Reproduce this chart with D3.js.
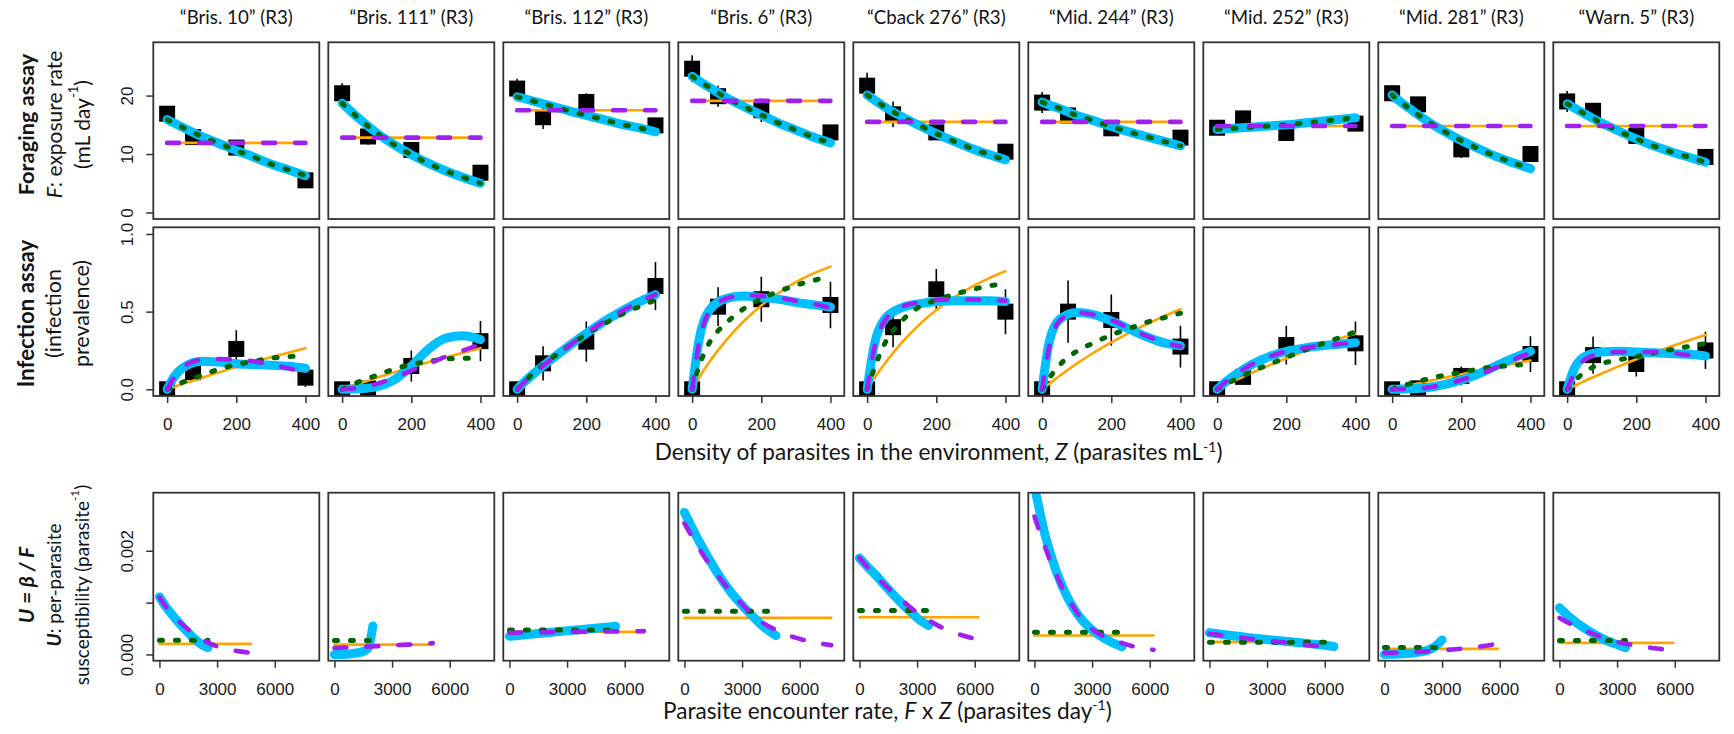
<!DOCTYPE html>
<html>
<head>
<meta charset="utf-8">
<script src="https://cdn.jsdelivr.net/npm/d3@7"></script>
<style>
  html, body { margin: 0; padding: 0; background: #fff; }
  svg { display: block; }
  .lab { font-family: Lato, "Open Sans", sans-serif; fill: #141414; }
  .tick text { font-family: "Liberation Sans", Arial, sans-serif; font-size: 17px; fill: #1a1a1a; }
  .tick line { stroke: #333; stroke-width: 1.5; }
</style>
</head>
<body>
<div id="chart"></div>
<script>
// strains (one column each)
const strains = ["\u201CBris. 10\u201D (R3)", "\u201CBris. 111\u201D (R3)", "\u201CBris. 112\u201D (R3)", "\u201CBris. 6\u201D (R3)",
  "\u201CCback 276\u201D (R3)", "\u201CMid. 244\u201D (R3)", "\u201CMid. 252\u201D (R3)", "\u201CMid. 281\u201D (R3)", "\u201CWarn. 5\u201D (R3)"];

// assay densities (parasites / mL) and grid the fitted curves are read at
const zAssay = [0, 75, 200, 400];
const zGrid = [0, 20, 50, 100, 150, 200, 250, 300, 350, 400];

// foraging assay: exposure rate F (mL/day)
const forMean = [
  [16.9, 12.9, 11.1, 5.5], [20.4, 13.0, 10.7, 6.8], [21.2, 16.3, 18.9, 14.9],
  [24.6, 19.9, 17.5, 13.7], [21.7, 16.8, 13.7, 10.4], [18.8, 16.6, 14.4, 12.8],
  [14.5, 16.1, 13.6, 15.2], [20.4, 18.5, 10.8, 10.0], [19.0, 17.4, 13.1, 9.5]];
const forSE = [
  [0.8, 0.8, 0.8, 0.6], [1.7, 1.4, 1.0, 0.8], [1.7, 2.0, 1.5, 0.8],
  [2.3, 1.8, 2.0, 1.2], [2.2, 2.2, 1.0, 0.8], [1.8, 1.0, 0.8, 0.6],
  [0.6, 0.6, 0.6, 0.6], [1.4, 0.8, 1.5, 0.6], [1.8, 0.6, 1.0, 0.6]];
// constant F fit (orange, purple) and density-dependent F fit (blue, green)
const forFlat = [11.9, 12.8, 17.5, 19.1, 15.5, 15.5, 14.8, 14.8, 14.8];
const forDecline = [
  [15.9, 15.3, 14.4, 13.0, 11.8, 10.6, 9.5, 8.3, 7.3, 6.3],
  [18.7, 17.6, 16.0, 13.6, 11.6, 9.9, 8.4, 7.1, 6.0, 5.0],
  [19.8, 19.5, 19.0, 18.2, 17.4, 16.6, 15.9, 15.1, 14.5, 13.8],
  [23.3, 22.5, 21.4, 19.6, 18.1, 16.7, 15.3, 14.1, 12.9, 11.9],
  [20.1, 19.3, 18.1, 16.4, 14.9, 13.5, 12.2, 11.0, 9.95, 9.0],
  [18.9, 18.4, 17.8, 16.6, 15.7, 14.7, 13.8, 13.0, 12.2, 11.4],
  [14.2, 14.3, 14.4, 14.6, 14.8, 15.0, 15.3, 15.6, 15.9, 16.2],
  [20.1, 19.1, 17.8, 15.7, 13.9, 12.3, 10.9, 9.6, 8.5, 7.5],
  [18.6, 17.9, 16.9, 15.3, 13.9, 12.6, 11.4, 10.4, 9.5, 8.6]];

// infection assay: prevalence
const infMean = [
  [0, 0.11, 0.26, 0.075], [0, 0.005, 0.15, 0.31], [0, 0.167, 0.307, 0.665],
  [0, 0.532, 0.58, 0.543], [0, 0.40, 0.644, 0.50], [0, 0.50, 0.446, 0.275],
  [0, 0.08, 0.285, 0.296], [0, 0.006, 0.086, 0.227], [0, 0.22, 0.163, 0.25]];
const infSE = [
  [0, 0.06, 0.12, 0.06], [0, 0.02, 0.1, 0.13], [0, 0.11, 0.13, 0.155],
  [0, 0.125, 0.145, 0.15], [0, 0.13, 0.13, 0.145], [0, 0.2, 0.165, 0.135],
  [0, 0.05, 0.125, 0.14], [0, 0.01, 0.06, 0.115], [0, 0.12, 0.08, 0.12]];
const infOrange = [
  [0, 0.015, 0.038, 0.074, 0.109, 0.143, 0.175, 0.206, 0.236, 0.265],
  [0, 0.015, 0.038, 0.074, 0.109, 0.143, 0.175, 0.206, 0.236, 0.265],
  [0, 0.045, 0.11, 0.207, 0.294, 0.371, 0.44, 0.501, 0.556, 0.605],
  [0, 0.075, 0.177, 0.32, 0.44, 0.54, 0.62, 0.69, 0.745, 0.79],
  [0, 0.069, 0.163, 0.30, 0.415, 0.51, 0.59, 0.657, 0.713, 0.76],
  [0, 0.035, 0.086, 0.165, 0.237, 0.302, 0.362, 0.417, 0.468, 0.515],
  [0, 0.022, 0.054, 0.106, 0.154, 0.2, 0.243, 0.285, 0.323, 0.36],
  [0, 0.01, 0.025, 0.05, 0.074, 0.097, 0.12, 0.142, 0.164, 0.185],
  [0, 0.021, 0.053, 0.102, 0.149, 0.194, 0.236, 0.276, 0.314, 0.35]];
const infGreen = [
  [0, 0.02, 0.05, 0.09, 0.13, 0.16, 0.18, 0.20, 0.21, 0.22],
  [0, 0.02, 0.05, 0.09, 0.13, 0.16, 0.18, 0.195, 0.2, 0.2],
  [0, 0.045, 0.11, 0.2, 0.28, 0.355, 0.42, 0.48, 0.53, 0.575],
  [0, 0.15, 0.3, 0.43, 0.52, 0.585, 0.63, 0.67, 0.70, 0.73],
  [0, 0.13, 0.29, 0.44, 0.53, 0.575, 0.61, 0.64, 0.665, 0.68],
  [0, 0.07, 0.155, 0.245, 0.30, 0.35, 0.39, 0.43, 0.46, 0.49],
  [0, 0.025, 0.06, 0.115, 0.16, 0.205, 0.25, 0.29, 0.33, 0.37],
  [0, 0.015, 0.035, 0.065, 0.09, 0.11, 0.13, 0.145, 0.155, 0.16],
  [0, 0.05, 0.11, 0.165, 0.19, 0.21, 0.235, 0.255, 0.275, 0.295]];
const infBlue = [
  [0, 0.08, 0.145, 0.18, 0.175, 0.165, 0.16, 0.155, 0.148, 0.135],
  [0, 0.001, 0.003, 0.015, 0.06, 0.15, 0.26, 0.33, 0.345, 0.32],
  [0, 0.045, 0.105, 0.195, 0.28, 0.36, 0.435, 0.5, 0.56, 0.61],
  [0, 0.32, 0.51, 0.585, 0.6, 0.59, 0.58, 0.56, 0.545, 0.53],
  [0, 0.28, 0.45, 0.525, 0.55, 0.565, 0.57, 0.57, 0.57, 0.565],
  [0, 0.30, 0.45, 0.495, 0.48, 0.44, 0.39, 0.34, 0.30, 0.28],
  [0, 0.04, 0.09, 0.16, 0.21, 0.245, 0.265, 0.28, 0.29, 0.30],
  [0, 0.001, 0.003, 0.01, 0.03, 0.06, 0.10, 0.15, 0.20, 0.245],
  [0, 0.13, 0.21, 0.24, 0.245, 0.24, 0.235, 0.23, 0.225, 0.215]];
const infPurple = [
  [0, 0.075, 0.15, 0.19, 0.195, 0.19, 0.18, 0.16, 0.135, 0.11],
  [0, 0.003, 0.01, 0.035, 0.075, 0.12, 0.165, 0.21, 0.25, 0.29],
  [0, 0.045, 0.105, 0.195, 0.28, 0.36, 0.435, 0.5, 0.56, 0.61],
  [0, 0.30, 0.50, 0.585, 0.605, 0.60, 0.59, 0.57, 0.55, 0.525],
  [0, 0.26, 0.44, 0.53, 0.56, 0.575, 0.58, 0.578, 0.575, 0.57],
  [0, 0.27, 0.44, 0.495, 0.48, 0.445, 0.395, 0.345, 0.305, 0.275],
  [0, 0.04, 0.09, 0.16, 0.21, 0.245, 0.265, 0.28, 0.29, 0.30],
  [0, 0.001, 0.003, 0.01, 0.03, 0.06, 0.095, 0.14, 0.19, 0.235],
  [0, 0.1, 0.19, 0.23, 0.24, 0.24, 0.24, 0.235, 0.22, 0.2]];

// per-parasite susceptibility U (x 0.001), constant fits
const uOrange = [0.205, 0.19, 0.436, 0.705, 0.718, 0.365, 0.244, 0.109, 0.224];
const uGreen = [0.276, 0.27, 0.47, 0.833, 0.85, 0.43, 0.237, 0.135, 0.27];
// varying fits, read at 9 even steps from 0 to the largest encounter rate F(400) x 400
const uBlue = [
  [1.11, 0.93, 0.78, 0.64, 0.51, 0.39, 0.28, 0.19, 0.13],
  [0.0, 0.001, 0.004, 0.01, 0.02, 0.035, 0.06, 0.12, 0.55],
  [0.35, 0.375, 0.40, 0.425, 0.45, 0.47, 0.495, 0.52, 0.545],
  [2.74, 2.30, 1.90, 1.53, 1.22, 0.96, 0.73, 0.52, 0.365],
  [1.86, 1.68, 1.51, 1.32, 1.14, 0.97, 0.81, 0.66, 0.56],
  [3.25, 2.28, 1.60, 1.11, 0.76, 0.52, 0.36, 0.24, 0.15],
  [0.42, 0.38, 0.345, 0.31, 0.28, 0.25, 0.22, 0.19, 0.155],
  [0.0, 0.005, 0.01, 0.02, 0.03, 0.05, 0.08, 0.15, 0.28],
  [0.90, 0.75, 0.62, 0.51, 0.41, 0.32, 0.25, 0.19, 0.13]];
const uPurple = [
  [1.10, 0.80, 0.58, 0.40, 0.26, 0.16, 0.10, 0.06, 0.03],
  [0.125, 0.135, 0.145, 0.155, 0.165, 0.18, 0.19, 0.205, 0.22],
  [0.42, 0.424, 0.428, 0.432, 0.436, 0.44, 0.443, 0.447, 0.45],
  [2.53, 1.93, 1.44, 1.02, 0.68, 0.47, 0.33, 0.24, 0.18],
  [1.86, 1.54, 1.26, 1.01, 0.78, 0.60, 0.46, 0.36, 0.29],
  [2.66, 1.85, 1.22, 0.75, 0.46, 0.31, 0.21, 0.13, 0.09],
  [0.40, 0.365, 0.33, 0.30, 0.27, 0.24, 0.21, 0.18, 0.155],
  [0.03, 0.035, 0.045, 0.06, 0.08, 0.10, 0.13, 0.165, 0.21],
  [0.705, 0.56, 0.44, 0.33, 0.245, 0.19, 0.145, 0.11, 0.083]];

// layout
const W = 1734, H = 734;
const left0 = 153.3, colStep = 175, pw = 166;
const rows = [{ top: 42.3, h: 176.7 }, { top: 227.3, h: 168.7 }, { top: 492.7, h: 168 }];

const st = {
  orange: { color: "#FFA500", w: 2.6 },
  blue: { color: "#00BFFF", w: 9 },
  green: { color: "#006400", w: 5, dash: "3 13" },
  purple: { color: "#A020F0", w: 4.6, dash: "12 20" }
};

const svg = d3.select("#chart").append("svg")
  .attr("width", W).attr("height", H);

// scales (shared across columns)
const xZ = d3.scaleLinear().domain([-40, 440]).range([0, pw]);
const xFZ = d3.scaleLinear().domain([-320, 8320]).range([0, pw]);
const yF = d3.scaleLinear().domain([-1.12, 29.12]).range([rows[0].h, 0]);
const yP = d3.scaleLinear().domain([-0.0432, 1.0432]).range([rows[1].h, 0]);
const yU = d3.scaleLinear().domain([-0.12, 3.12]).range([rows[2].h, 0]);

const defs = svg.append("defs");
rows.forEach((r, k) => {
  defs.append("clipPath").attr("id", "clip" + k)
    .append("rect").attr("width", pw).attr("height", r.h);
});

function addLine(g, pts, xs, ys, s) {
  g.append("path").datum(pts)
    .attr("fill", "none")
    .attr("stroke", s.color)
    .attr("stroke-width", s.w)
    .attr("stroke-linecap", "round")
    .attr("stroke-linejoin", "round")
    .attr("stroke-dasharray", s.dash || null)
    .attr("d", d3.line().x(d => xs(d[0])).y(d => ys(d[1])).curve(d3.curveMonotoneX));
}

function addPoints(g, means, ses, xs, ys) {
  zAssay.forEach((z, j) => {
    g.append("line")
      .attr("x1", xs(z)).attr("x2", xs(z))
      .attr("y1", ys(means[j] - ses[j])).attr("y2", ys(means[j] + ses[j]))
      .attr("stroke", "#000").attr("stroke-width", 1.6);
    g.append("rect")
      .attr("x", xs(z) - 8).attr("y", ys(means[j]) - 8)
      .attr("width", 16).attr("height", 16).attr("fill", "#000");
  });
}

function yAxis(g, ys, ticks, fmt) {
  const ax = g.append("g").call(d3.axisLeft(ys).tickValues(ticks).tickSize(7).tickFormat(fmt));
  ax.select(".domain").remove();
  ax.selectAll("text")
    .attr("transform", "rotate(-90)")
    .attr("x", 0).attr("y", -20.3).attr("dy", 0)
    .attr("text-anchor", "middle");
}

function xAxis(g, xs, h, ticks) {
  const ax = g.append("g").attr("transform", `translate(0,${h})`)
    .call(d3.axisBottom(xs).tickValues(ticks).tickSize(7).tickFormat(d3.format("d")));
  ax.select(".domain").remove();
  ax.selectAll("text").attr("y", 34).attr("dy", 0);
}

function panel(k, i) {
  const g = svg.append("g").attr("transform", `translate(${left0 + colStep * i},${rows[k].top})`);
  const inner = g.append("g").attr("clip-path", `url(#clip${k})`);
  return { g, inner };
}

strains.forEach((name, i) => {
  const x0 = left0 + colStep * i;
  svg.append("text").attr("class", "lab")
    .attr("x", x0 + pw / 2).attr("y", 24)
    .attr("text-anchor", "middle").style("font-size", "18.7px")
    .text(name);

  // row 1: foraging
  const p1 = panel(0, i);
  addPoints(p1.inner, forMean[i], forSE[i], xZ, yF);
  const flat = [[0, forFlat[i]], [400, forFlat[i]]];
  const decl = zGrid.map((z, j) => [z, forDecline[i][j]]);
  addLine(p1.inner, flat, xZ, yF, st.orange);
  addLine(p1.inner, decl, xZ, yF, st.blue);
  addLine(p1.inner, decl, xZ, yF, st.green);
  addLine(p1.inner, flat, xZ, yF, st.purple);
  if (i === 0) yAxis(p1.g, yF, [0, 10, 20], d3.format("d"));

  // row 2: infection
  const p2 = panel(1, i);
  addPoints(p2.inner, infMean[i], infSE[i], xZ, yP);
  const pts = arr => zGrid.map((z, j) => [z, arr[i][j]]);
  addLine(p2.inner, pts(infOrange), xZ, yP, st.orange);
  addLine(p2.inner, pts(infBlue), xZ, yP, st.blue);
  addLine(p2.inner, pts(infGreen), xZ, yP, st.green);
  addLine(p2.inner, pts(infPurple), xZ, yP, st.purple);
  xAxis(p2.g, xZ, rows[1].h, [0, 200, 400]);
  if (i === 0) yAxis(p2.g, yP, [0, 0.5, 1], d3.format(".1f"));

  // row 3: susceptibility vs encounter rate
  const p3 = panel(2, i);
  const endFlat = forFlat[i] * 400;
  const endDecl = forDecline[i][zGrid.length - 1] * 400;
  const steps = (arr, end) => arr.map((u, j) => [end * j / (arr.length - 1), u]);
  addLine(p3.inner, [[0, uOrange[i]], [endFlat, uOrange[i]]], xFZ, yU, st.orange);
  addLine(p3.inner, steps(uBlue[i], endDecl), xFZ, yU, st.blue);
  addLine(p3.inner, [[0, uGreen[i]], [endDecl, uGreen[i]]], xFZ, yU, st.green);
  addLine(p3.inner, steps(uPurple[i], endFlat), xFZ, yU, st.purple);
  xAxis(p3.g, xFZ, rows[2].h, [0, 3000, 6000]);
  if (i === 0) yAxis(p3.g, yU, [0, 1, 2], d => d === 1 ? "" : (d / 1000).toFixed(3));

  // panel boxes on top
  [p1, p2, p3].forEach((p, k) => {
    p.g.append("rect").attr("width", pw).attr("height", rows[k].h)
      .attr("fill", "none").attr("stroke", "#333").attr("stroke-width", 1.8);
  });
});

// rich text helper: segments with italic / bold / superscript
function rich(t, segs) {
  let raised = false;
  segs.forEach(s => {
    const sp = t.append("tspan").text(s.t);
    if (s.i) sp.style("font-style", "italic");
    if (s.b) sp.style("font-weight", "bold");
    if (s.sup) {
      sp.style("font-size", "0.62em").attr("dy", "-0.6em");
      raised = true;
    } else if (raised) {
      sp.attr("dy", "0.372em");
      raised = false;
    }
  });
  return t;
}

// row labels (rotated), one size per line
const rowLabels = [
  { y: 124.5, sizes: [21.8, 21, 21], lines: [
    [{ t: "Foraging assay", b: 1 }],
    [{ t: "F", i: 1 }, { t: ": exposure rate" }],
    [{ t: "(mL day" }, { t: "-1", sup: 1 }, { t: ")" }]] },
  { y: 313.5, sizes: [22.2, 21.5, 21.5], lines: [
    [{ t: "Infection assay", b: 1 }],
    [{ t: "(infection" }],
    [{ t: "prevalence)" }]] },
  { y: 585, sizes: [21, 19, 19], lines: [
    [{ t: "U = \u03B2 / F", b: 1, i: 1 }],
    [{ t: "U", i: 1, b: 1 }, { t: ": per-parasite" }],
    [{ t: "susceptibility (parasite" }, { t: "-1", sup: 1 }, { t: ")" }]] }
];
const lineX = [25, 53, 81];
rowLabels.forEach(rl => {
  rl.lines.forEach((segs, j) => {
    rich(svg.append("text").attr("class", "lab")
      .attr("transform", `translate(${lineX[j]},${rl.y}) rotate(-90)`)
      .attr("text-anchor", "middle")
      .attr("dominant-baseline", "central")
      .style("font-size", rl.sizes[j] + "px"), segs);
  });
});

// x-axis titles
rich(svg.append("text").attr("class", "lab").attr("x", 654.7).attr("y", 460).style("font-size", "22.6px"),
  [{ t: "Density of parasites in the environment, " }, { t: "Z", i: 1 }, { t: " (parasites mL" }, { t: "-1", sup: 1 }, { t: ")" }]);
rich(svg.append("text").attr("class", "lab").attr("x", 663).attr("y", 718.5).style("font-size", "22.6px"),
  [{ t: "Parasite encounter rate, " }, { t: "F", i: 1 }, { t: " x " }, { t: "Z", i: 1 }, { t: " (parasites day" }, { t: "-1", sup: 1 }, { t: ")" }]);
</script>
</body>
</html>
